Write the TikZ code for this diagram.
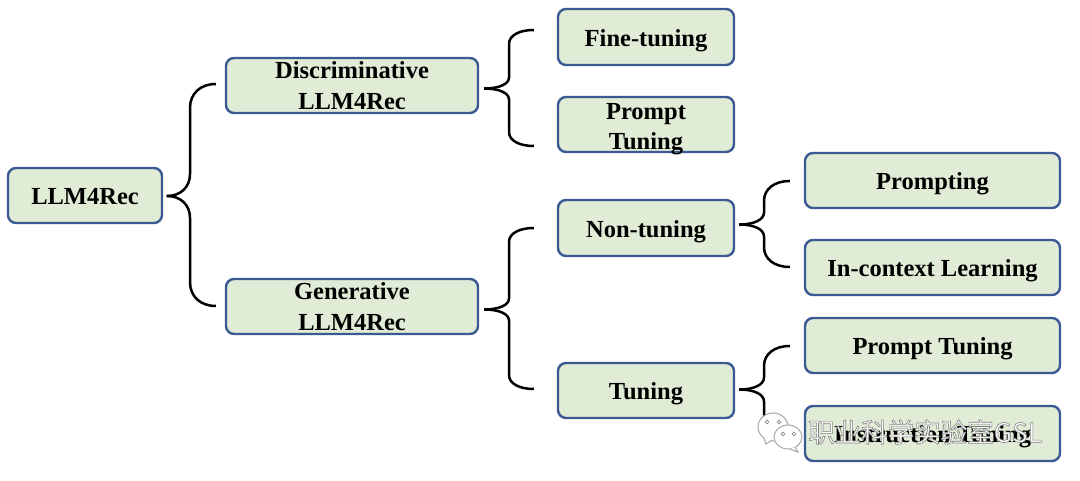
\documentclass[tikz,border=0pt]{standalone}
\usepackage{fontspec}
\setmainfont{Liberation Serif}
\newfontfamily\cjkwm{Noto Sans CJK SC}
\usetikzlibrary{calc}
\definecolor{boxfill}{HTML}{E0ECD6}
\definecolor{boxline}{HTML}{3B5A94}
\tikzset{
  tbox/.style={draw=boxline,fill=boxfill,line width=2.4pt,rounded corners=8pt,inner sep=0pt,
    font=\fontsize{24.5}{30.5}\selectfont\bfseries,text=black},
  link/.style={draw=black,line width=2.5pt,line join=round},
  bubble/.style={draw=black!35,fill=white,line width=1pt},
  eye/.style={draw=black!45,fill=white,line width=.6pt,circle,inner sep=1.3pt},
}
% #1 parent anchor, #2 start shift, #3 child anchor, #4 end shift, #5 x of the spine,
% #6 y run of the start curve (signed), #7 y run of the end curve (signed)
\newcommand{\bracelink}[7]{%
  \coordinate (vx) at (#5,0);
  \coordinate (ss) at ([shift={(#2)}]#1);
  \coordinate (ee) at ([shift={(#4)}]#3);
  \coordinate (p) at ($(ss -| vx)+(0,#6)$);
  \coordinate (q) at ($(ee -| vx)+(0,-1*#7)$);
  \draw[link] (ss) .. controls ($(ss)!0.6!(ss -| vx)$) and ($(p)!0.6!(ss -| vx)$) .. (p)
    -- (q) .. controls ($(q)!0.6!(ee -| vx)$) and ($(ee)!0.6!(ee -| vx)$) .. (ee);
}
% name, x, y, width, height, text shift down, text
\newcommand{\tb}[7]{\node[tbox,minimum width=#4pt,minimum height=#5pt] (#1) at (#2,#3)
  {\setbox0\hbox{\begin{tabular}{@{}c@{}}#7\end{tabular}}%
   \setbox2\hbox{\lower\dimexpr(\ht0-\dp0)/2+#6pt\relax\box0}%
   \ht2=5pt \dp2=5pt \box2};}
\begin{document}
\begin{tikzpicture}[x=1pt,y=-1pt]
\useasboundingbox (0,0) rectangle (1080,481);
\tb{root}{85}{195.5}{154}{55}{3}{LLM4Rec}
\tb{disc}{352}{85.5}{252}{55}{2.5}{Discriminative\\LLM4Rec}
\tb{gen}{352}{306.5}{252}{55}{2.5}{Generative\\LLM4Rec}
\tb{fine}{646}{37}{176}{56}{3}{Fine-tuning}
\tb{ptwo}{646}{124.5}{176}{55}{4}{Prompt\\Tuning}
\tb{non}{646}{228}{176}{56}{3}{Non-tuning}
\tb{tun}{646}{390.5}{176}{55}{3}{Tuning}
\tb{prm}{932.5}{180.5}{255}{55}{3}{Prompting}
\tb{ctx}{932.5}{267.5}{255}{55}{3}{In-context Learning}
\tb{pt}{932.5}{345.5}{255}{55}{3}{Prompt Tuning}
\tb{ins}{932.5}{433.5}{255}{55}{3}{Instruction Tuning}
\bracelink{root.east}{3.5,0.5}{disc.west}{-9,-1.5}{190}{-22}{-24}
\bracelink{root.east}{3.5,0.5}{gen.west}{-9,-0.5}{190}{22}{24}
\bracelink{disc.east}{5,3}{fine.west}{-23,-7}{509}{-11}{-14}
\bracelink{disc.east}{5,3}{ptwo.west}{-23,21.5}{509}{11}{14}
\bracelink{gen.east}{5,3}{non.west}{-23,0}{509}{-11}{-14}
\bracelink{gen.east}{5,3}{tun.west}{-23,-1.5}{509}{11}{14}
\bracelink{non.east}{4,-3.5}{prm.west}{-14,0.5}{764}{-12}{-20}
\bracelink{non.east}{4,-3.5}{ctx.west}{-14,-0.5}{764}{12}{20}
\bracelink{tun.east}{4,-1}{pt.west}{-14,0.5}{764}{-12}{-20}
\bracelink{tun.east}{4,-1}{ins.west}{-14,-0.5}{764}{12}{20}
% watermark
\draw[bubble] (773,427) ellipse (15 and 14);
\draw[bubble] (764,438) -- (766,444) -- (772,440);
\node[eye] (e1) at (767,422) {};
\node[eye] (e2) at (779,422) {};
\draw[bubble] (788,437) ellipse (14 and 12);
\draw[bubble] (795,447) -- (798,452) -- (790,449);
\node[eye] (e3) at (783,434) {};
\node[eye] (e4) at (794,434) {};
\node[anchor=west,inner sep=0pt,font=\cjkwm\fontsize{26.5}{30}\selectfont] (wm) at (808,432)
  {\special{pdf:code q 2 Tr 0.6 w 0.5 G 1 g}职业科学实验室GSL\special{pdf:code 0 Tr Q}};
\end{tikzpicture}
\end{document}
